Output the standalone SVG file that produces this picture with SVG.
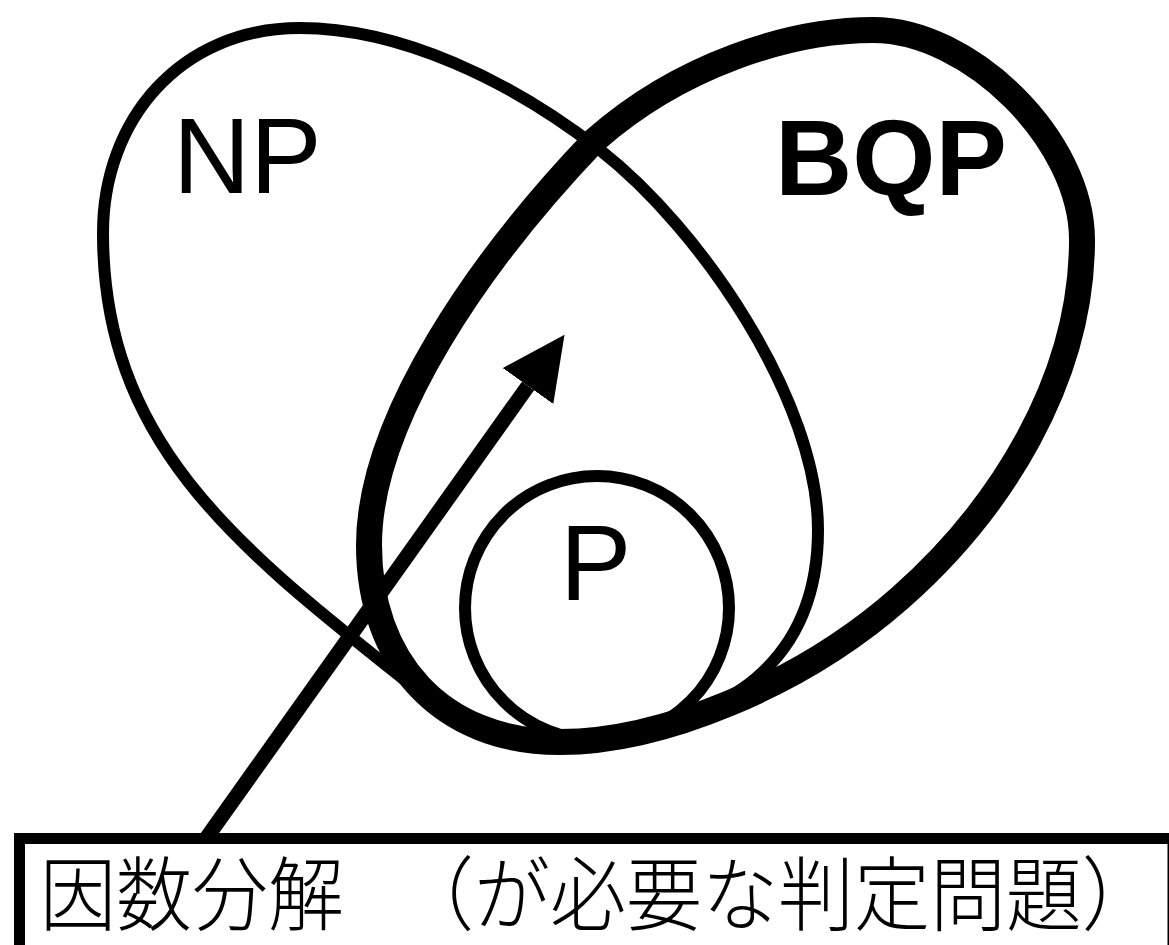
<svg xmlns="http://www.w3.org/2000/svg" width="1169" height="945" viewBox="0 0 1169 945">
<style>
.set{fill:none;stroke:#000;stroke-linejoin:round}
.thin{stroke-width:12}
.thick{stroke-width:26}
.lbl{font-family:"Liberation Sans",Arial,sans-serif;font-size:107px;fill:#000}
.jp{font-family:"Noto Sans CJK JP","Noto Sans CJK SC",sans-serif;font-size:76px;font-weight:300;fill:#000}
</style>
<defs>
<marker id="ah" markerUnits="userSpaceOnUse" markerWidth="64" markerHeight="64" viewBox="0 0 64 64" refX="0" refY="31" orient="auto">
<path d="M0,0 L63,31 L0,62 Z" fill="#000"/>
</marker>
</defs>
<rect width="1169" height="945" fill="#fff"/>
<g id="NP">
<path class="set thin" d="M560,736 C510,736 470,725 430,700 C250,556 103,453 103,233 C103,120 180,28 300,28 C400,28 510,80 600,150 C700,228 818,400 818,530 C818,680 700,736 560,736 Z"/>
<text class="lbl" x="173" y="193">NP</text>
</g>
<g id="BQP">
<path class="set thick" d="M560,742 C440,742 369,660 369,545 C369,420 480,260 595,140 C680,65 790,30 873,30 C970,30 1082,140 1082,240 C1082,380 1000,510 900,598 C800,686 660,742 560,742 Z"/>
<text class="lbl" x="775" y="195" font-weight="bold">BQP</text>
</g>
<g id="P">
<circle class="set thin" cx="597" cy="608" r="132"/>
<text class="lbl" x="560" y="600">P</text>
</g>
<g id="connectors">
<line x1="205" y1="840" x2="528" y2="386" stroke="#000" stroke-width="15" marker-end="url(#ah)"/>
</g>
<g id="label">
<rect x="19.5" y="838.5" width="1153.5" height="200" fill="#fff" stroke="#000" stroke-width="11"/>
<text class="jp" transform="translate(0,924) scale(1,1.06)"><tspan x="40" y="0">因数分解</tspan><tspan x="398" y="0">（が必要な判定問題）</tspan></text>
</g>
</svg>
